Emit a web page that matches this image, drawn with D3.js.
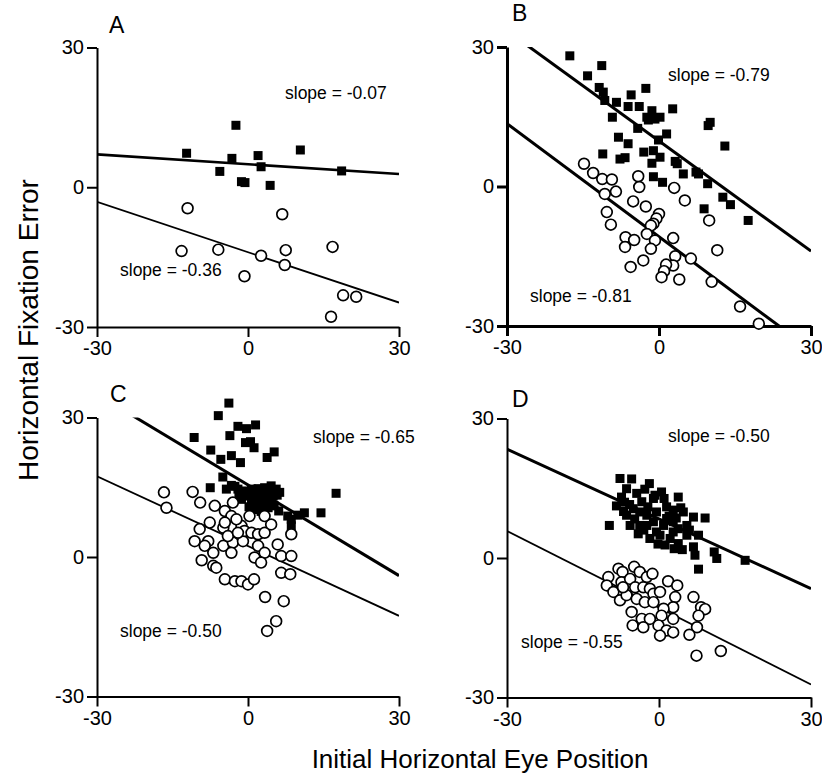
<!DOCTYPE html>
<html><head><meta charset="utf-8">
<script src="https://cdn.jsdelivr.net/npm/d3@7"></script>
<style>
body{margin:0;background:#fff}
svg{display:block}
text{font-family:"Liberation Sans",Arial,Helvetica,sans-serif;fill:#000}
</style>
</head><body>
<svg id="chart" width="822" height="782"></svg>
<script>
// ---------------- DATA ----------------
const xTicks = [-30, 0, 30];
const yTicks = [-30, 0, 30];
const panelLetters = ["A", "B", "C", "D"];
const xTitle = "Initial Horizontal Eye Position";
const yTitle = "Horizontal Fixation Error";

// regression lines: [intercept, slope] for filled (squares) and open (circles)
const fitFilled = [[4.95, -0.07], [9.8, -0.79], [15.5, -0.65], [8.4, -0.50]];
const fitOpen   = [[-13.95, -0.36], [-10.8, -0.81], [2.35, -0.50], [-10.7, -0.55]];
const labelFilled = ["slope = -0.07", "slope = -0.79", "slope = -0.65", "slope = -0.50"];
const labelOpen   = ["slope = -0.36", "slope = -0.81", "slope = -0.50", "slope = -0.55"];

// Panel A
const aFilled = [[-12.2,7.3],[-2.4,13.3],[-3.2,6.2],[-5.6,3.4],[2.0,6.8],[2.6,4.4],[-1.3,1.2],[-0.6,1.0],[4.4,0.4],[10.4,8.0],[18.6,3.5]];
const aOpen = [[-12.0,-4.5],[-13.2,-13.7],[-5.9,-13.4],[-0.7,-19.1],[2.6,-14.7],[6.8,-5.8],[7.5,-13.5],[7.3,-16.7],[16.8,-12.8],[18.9,-23.2],[21.5,-23.5],[16.5,-27.8]];

// Panel B
const bFilled = [[-17.6,28.1],[-14.1,23.8],[-11.3,26.0],[-11.8,21.3],[-11.0,20.3],[-10.7,18.5],[-8.4,18.1],[-9.2,14.9],[-5.5,19.7],[-6.1,17.2],[-3.9,17.2],[-2.6,21.1],[-4.2,12.5],[-8.0,10.6],[-6.1,9.2],[-11.1,7.0],[-7.7,5.9],[-6.7,6.2],[-3.0,7.4],[-1.1,7.7],[-1.4,5.0],[0.2,6.3],[-1.1,2.1],[0.7,0.9],[-2.4,14.9],[-1.4,16.3],[0.2,14.9],[-0.8,14.5],[-2.1,14.3],[-0.1,10.0],[1.5,11.3],[2.7,16.7],[3.2,5.4],[3.6,4.9],[4.8,2.7],[7.3,3.1],[7.8,2.7],[9.6,0.6],[10.1,13.8],[9.7,13.1],[13.0,8.7],[12.6,-2.3],[14.1,-3.9],[8.9,-4.8],[17.6,-7.3]];
const bOpen = [[-14.8,4.9],[-13.0,2.9],[-11.2,1.6],[-9.3,1.5],[-8.5,-1.1],[-10.7,-1.6],[-10.3,-5.5],[-9.5,-8.2],[-4.1,2.2],[-3.9,-0.1],[-5.1,-3.2],[-2.6,-4.3],[0.0,-5.9],[-0.5,-6.9],[-1.1,-8.0],[-1.6,-8.4],[3.0,-0.3],[5.1,-3.0],[9.9,-7.3],[-2.4,-10.2],[-0.8,-11.6],[2.8,-11.1],[-1.6,-13.4],[-6.6,-10.9],[-4.9,-11.5],[-6.7,-13.0],[-3.1,-15.9],[-5.6,-17.3],[3.2,-15.0],[2.8,-17.0],[1.4,-16.8],[1.0,-18.2],[0.5,-19.5],[4.0,-20.0],[6.3,-15.5],[10.4,-20.5],[11.5,-13.7],[16.0,-25.8],[19.7,-29.5]];

// Panel C
const cFilled = [[-3.8,33.1],[-5.9,30.4],[-10.7,25.7],[-3.6,26.1],[-2.0,28.1],[-0.3,27.6],[1.5,28.4],[-0.5,24.6],[0.5,24.8],[1.2,23.5],[-7.4,23.0],[-5.4,21.0],[-3.3,21.8],[-1.5,20.3],[3.8,21.4],[5.2,22.6],[-5.0,17.2],[-7.5,14.9],[-4.3,14.6],[-3.3,15.4],[-2.0,14.6],[-0.7,14.2],[0.7,14.6],[2.0,14.7],[3.3,14.9],[4.6,15.3],[5.6,14.6],[6.3,13.9],[2.0,13.5],[3.3,13.1],[1.3,12.4],[2.6,11.7],[4.0,12.4],[5.0,13.1],[2.0,10.6],[3.3,10.3],[0.0,13.1],[-1.3,12.4],[0.7,11.3],[6.1,9.9],[7.9,8.8],[8.6,8.1],[9.9,9.0],[11.2,9.5],[14.5,9.5],[17.5,13.7],[8.6,6.7],[-1.5,13.5],[0.5,13.8],[1.5,14.0],[3.8,14.0],[4.8,14.2],[5.8,13.3],[1.0,12.0],[3.0,12.0],[4.5,11.5],[0.2,10.8],[1.4,10.2],[2.6,9.8],[4.0,10.6],[5.2,11.0],[-1.8,13.2],[-2.6,15.2]];
const cOpen = [[-16.7,13.9],[-16.2,10.6],[-11.0,14.0],[-9.5,11.7],[-6.6,11.0],[-4.6,9.9],[-3.0,11.7],[-3.3,8.8],[-7.6,7.4],[-9.6,6.0],[-10.6,3.4],[-7.9,3.4],[-8.6,2.4],[-6.9,0.9],[-4.9,2.4],[-3.0,3.1],[-3.3,0.9],[-9.2,-0.7],[-6.9,-1.9],[-6.3,-2.3],[-4.6,-4.8],[-2.6,-5.2],[-1.3,-5.2],[0.0,-5.9],[1.2,-4.8],[-1.0,3.4],[0.3,8.8],[-1.3,6.7],[-0.7,5.6],[0.7,5.2],[2.0,4.9],[3.3,5.2],[4.6,7.0],[3.3,8.8],[-4.9,6.3],[-4.6,7.4],[2.0,2.4],[3.3,0.9],[1.3,-0.1],[2.6,-1.2],[5.9,2.7],[6.6,0.2],[8.6,0.2],[8.6,4.9],[6.6,-3.4],[8.4,-3.7],[3.4,-8.6],[7.1,-9.5],[5.6,-13.8],[3.8,-15.9],[-2.3,8.1],[-4.0,4.5],[-2.0,5.2]];

// Panel D
const dFilled = [[-9.8,7.0],[-7.7,17.1],[-5.4,17.0],[-1.9,16.0],[0.5,14.2],[3.8,13.1],[-8.4,11.2],[-7.4,13.1],[-6.4,14.9],[-4.4,13.9],[-3.4,12.1],[-1.1,12.8],[-5.1,10.6],[-6.4,9.2],[-3.8,9.9],[-2.4,9.2],[-0.5,9.9],[1.5,11.0],[2.8,10.3],[4.8,9.9],[6.8,8.8],[9.1,8.6],[-5.7,7.0],[-3.8,7.0],[-1.1,7.8],[0.9,7.0],[2.8,7.8],[3.8,6.3],[5.5,7.0],[-4.1,5.2],[-1.8,4.2],[0.2,4.9],[2.2,4.2],[3.8,3.1],[5.5,4.9],[7.8,4.9],[6.8,2.4],[7.1,0.6],[10.9,1.3],[11.4,-0.1],[17.0,-0.5],[7.8,-2.4],[-0.5,5.6],[1.5,8.5],[-2.4,7.0],[2.8,5.6],[-6.8,12.0],[-5.8,11.5],[-2.8,14.8],[-0.8,13.5],[1.0,12.8],[2.0,9.0],[3.4,8.6],[4.3,10.8],[6.0,6.0],[-3.0,6.0],[-0.2,3.0],[1.2,2.8],[3.0,2.0],[4.6,1.8],[-4.8,8.4],[-7.0,10.0],[-2.2,11.0]];
const dOpen = [[-8.0,-2.3],[-10.0,-4.1],[-10.3,-5.9],[-7.2,-3.0],[-4.9,-1.9],[-3.8,-3.0],[-2.4,-4.1],[-1.3,-3.4],[-7.4,-5.2],[-5.7,-4.5],[-4.7,-6.3],[-3.1,-6.3],[-1.8,-6.6],[-1.1,-7.7],[-9.0,-7.3],[-7.7,-9.1],[-6.4,-8.0],[-4.4,-8.8],[-2.8,-9.5],[-1.1,-9.5],[1.8,-5.0],[3.6,-5.9],[3.2,-8.4],[2.8,-10.6],[0.9,-10.9],[-5.4,-11.6],[-3.4,-13.1],[-1.8,-13.1],[0.5,-12.4],[2.8,-13.1],[-5.2,-14.5],[-3.1,-14.9],[-0.1,-14.5],[1.5,-15.6],[2.8,-16.0],[0.2,-16.7],[6.8,-8.4],[8.3,-10.6],[9.1,-11.0],[7.8,-12.4],[7.5,-14.9],[6.0,-16.5],[7.4,-21.0],[12.2,-20.0],[-7.1,-6.3],[0.2,-7.3]];

const filledSets = [aFilled, bFilled, cFilled, dFilled];
const openSets = [aOpen, bOpen, cOpen, dOpen];

// ---------------- LAYOUT ----------------
const layout = [
  {x0: 97,  y0: 47.5, w: 302, h: 279.5, axisW: 2,   lwF: 2.6, lwO: 1.8, letter: [109, 33], lblF: [285, 99],  lblO: [120, 276]},
  {x0: 507, y0: 47,   w: 304, h: 279,   axisW: 3,   lwF: 3,   lwO: 3,   letter: [512, 21], lblF: [668, 81],  lblO: [530, 302]},
  {x0: 97,  y0: 417.5,w: 302, h: 279,   axisW: 2,   lwF: 3,   lwO: 1.8, letter: [110, 402],lblF: [313, 443], lblO: [120, 637]},
  {x0: 507, y0: 418.5,w: 304, h: 279,   axisW: 2,   lwF: 3,   lwO: 1.8, letter: [512, 407],lblF: [668, 442], lblO: [521, 648]}
];

const svg = d3.select("#chart");
const fmt = d => String(d);

layout.forEach((L, i) => {
  const x = d3.scaleLinear().domain([-30, 30]).range([L.x0, L.x0 + L.w]);
  const y = d3.scaleLinear().domain([-30, 30]).range([L.y0 + L.h, L.y0]);
  const g = svg.append("g");

  const clipId = "clip" + i;
  svg.append("clipPath").attr("id", clipId).append("rect")
    .attr("x", L.x0).attr("y", L.y0).attr("width", L.w).attr("height", L.h);

  // axes
  const xAxis = d3.axisBottom(x).tickValues(xTicks).tickSize(10).tickPadding(4).tickSizeOuter(0).tickFormat(fmt);
  const yAxis = d3.axisLeft(y).tickValues(yTicks).tickSize(10).tickPadding(3).tickSizeOuter(0).tickFormat(fmt);
  const gx = g.append("g").attr("transform", `translate(0,${L.y0 + L.h})`).call(xAxis);
  const gy = g.append("g").attr("transform", `translate(${L.x0},0)`).call(yAxis);
  [gx, gy].forEach(a => {
    a.selectAll("path,line").attr("stroke", "#000").attr("stroke-width", L.axisW);
    a.selectAll("text").attr("font-size", 20).attr("font-family", '"Liberation Sans",Arial,sans-serif').attr("fill", "#000");
  });
  gy.selectAll("text").attr("dy", "0.3em");

  // regression lines
  const line = d3.line().x(d => x(d[0])).y(d => y(d[1]));
  const fitLine = (f) => xTicks.filter(t => t !== 0).map(t => [t, f[0] + f[1] * t]);
  g.append("path").attr("clip-path", `url(#${clipId})`)
    .attr("d", line(fitLine(fitFilled[i]))).attr("stroke", "#000").attr("stroke-width", L.lwF).attr("fill", "none");
  g.append("path").attr("clip-path", `url(#${clipId})`)
    .attr("d", line(fitLine(fitOpen[i]))).attr("stroke", "#000").attr("stroke-width", L.lwO).attr("fill", "none");

  // points
  const s = 9;
  g.append("g").selectAll("rect").data(filledSets[i]).join("rect")
    .attr("x", d => x(d[0]) - s / 2).attr("y", d => y(d[1]) - s / 2)
    .attr("width", s).attr("height", s).attr("fill", "#000");
  g.append("g").selectAll("circle").data(openSets[i]).join("circle")
    .attr("cx", d => x(d[0])).attr("cy", d => y(d[1])).attr("r", 5.4)
    .attr("fill", "#fff").attr("stroke", "#000").attr("stroke-width", 1.7);

  // labels
  g.append("text").attr("x", L.letter[0]).attr("y", L.letter[1]).attr("font-size", 23).text(panelLetters[i]);
  g.append("text").attr("x", L.lblF[0]).attr("y", L.lblF[1]).attr("font-size", 17.5).text(labelFilled[i]);
  g.append("text").attr("x", L.lblO[0]).attr("y", L.lblO[1]).attr("font-size", 17.5).text(labelOpen[i]);
});

svg.append("text").attr("x", 480).attr("y", 768).attr("text-anchor", "middle").attr("font-size", 26).text(xTitle);
svg.append("text").attr("transform", "translate(38,330) rotate(-90)").attr("text-anchor", "middle").attr("font-size", 28).text(yTitle);
</script>
</body></html>
